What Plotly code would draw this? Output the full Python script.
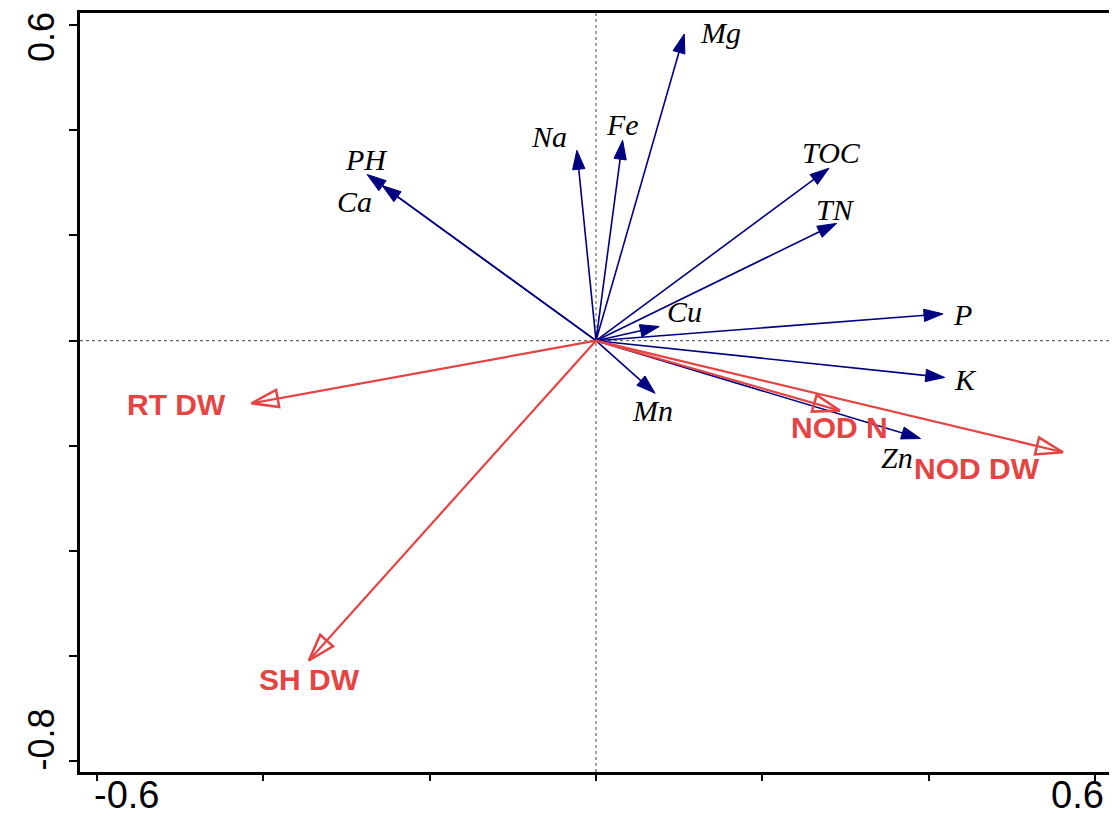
import plotly.graph_objects as go

# Environmental variable vectors (blue)
env_names = ["Mg", "Fe", "Na", "PH", "Ca", "TOC", "TN", "Cu", "P", "K", "Mn", "Zn"]
env_x = [0.106, 0.032, -0.023, -0.275, -0.257, 0.280, 0.289, 0.076, 0.417, 0.419, 0.071, 0.390]
env_y = [0.583, 0.381, 0.362, 0.316, 0.295, 0.328, 0.223, 0.027, 0.051, -0.070, -0.100, -0.186]

# Response variable vectors (red)
resp_names = ["RT DW", "SH DW", "NOD N", "NOD DW"]
resp_x = [-0.414, -0.345, 0.293, 0.561]
resp_y = [-0.119, -0.608, -0.133, -0.212]

# Axis ticks
tick_x = [-0.6, -0.4, -0.2, 0.0, 0.2, 0.4, 0.6]
tick_y = [-0.8, -0.6, -0.4, -0.2, 0.0, 0.2, 0.4, 0.6]

# label offsets in pixels (xshift, yshift) - styling only
env_off = {"Mg": (36, 2), "Fe": (0, 16), "Na": (-28, 14), "PH": (-1, 15), "Ca": (-28, -16),
           "TOC": (2, 16), "TN": (-1, 14), "Cu": (25, 15), "P": (19, -1), "K": (21, -2),
           "Mn": (-3, -17), "Zn": (-24, -19)}
resp_off = {"RT DW": (-75, -1), "SH DW": (1, -19), "NOD N": (0, -17), "NOD DW": (-86, -16)}

BLUE = "#000080"
RED = "#e64343"

fig = go.Figure()

for n, x, y in zip(env_names, env_x, env_y):
    fig.add_trace(go.Scatter(
        x=[0, x], y=[0, y], mode="lines+markers",
        line=dict(color=BLUE, width=1.6),
        marker=dict(symbol=["circle", "arrow"], size=[0, 20], angleref="previous",
                    color=BLUE, opacity=1, line=dict(width=1, color=BLUE)),
        hoverinfo="skip", showlegend=False))

for n, x, y in zip(resp_names, resp_x, resp_y):
    fig.add_trace(go.Scatter(
        x=[0, x], y=[0, y], mode="lines+markers",
        line=dict(color=RED, width=2.2),
        marker=dict(symbol=["circle", "arrow-open"], size=[0, 28], angleref="previous",
                    color=RED, opacity=1, line=dict(width=2.5, color=RED)),
        hoverinfo="skip", showlegend=False))

annotations = []
for n, x, y in zip(env_names, env_x, env_y):
    dx, dy = env_off[n]
    annotations.append(dict(x=x, y=y, xref="x", yref="y", text=n, showarrow=False,
                            xshift=dx, yshift=dy,
                            font=dict(family="Liberation Serif", size=30, color="black", style="italic")))
for n, x, y in zip(resp_names, resp_x, resp_y):
    dx, dy = resp_off[n]
    annotations.append(dict(x=x, y=y, xref="x", yref="y", text=n, showarrow=False,
                            xshift=dx, yshift=dy,
                            font=dict(family="Liberation Sans", size=30, color=RED, weight="bold")))

# axis end labels
annotations.append(dict(x=tick_x[0], y=0, xref="x", yref="paper", text="-0.6", showarrow=False,
                        xanchor="center", yanchor="bottom", xshift=30, yshift=-46,
                        font=dict(family="Liberation Sans", size=38, color="black")))
annotations.append(dict(x=tick_x[-1], y=0, xref="x", yref="paper", text="0.6", showarrow=False,
                        xanchor="center", yanchor="bottom", xshift=-18, yshift=-46,
                        font=dict(family="Liberation Sans", size=38, color="black")))
annotations.append(dict(x=0, y=tick_y[-1], xref="paper", yref="y", text="0.6", showarrow=False,
                        xanchor="center", yanchor="middle",
                        textangle=-90, xshift=-39, yshift=-12,
                        font=dict(family="Liberation Sans", size=36, color="black")))
annotations.append(dict(x=0, y=tick_y[0], xref="paper", yref="y", text="-0.8", showarrow=False,
                        xanchor="center", yanchor="middle",
                        textangle=-90, xshift=-39, yshift=22,
                        font=dict(family="Liberation Sans", size=36, color="black")))

shapes = [
    dict(type="line", x0=0, x1=0, y0=0, y1=1, xref="x", yref="paper",
         line=dict(color="#444", width=1, dash="dot"), layer="below"),
    dict(type="line", x0=0, x1=1, y0=0, y1=0, xref="paper", yref="y",
         line=dict(color="#444", width=1, dash="dot"), layer="below"),
]

axis_common = dict(showgrid=False, zeroline=False, showline=True, linecolor="black",
                   linewidth=2.5, mirror=True, ticks="outside", tickwidth=1.5,
                   tickcolor="black", showticklabels=False)

# page body adds an 8px offset; margins compensate so the plot area sits at 80..1112 x 10..772
fig.update_layout(
    width=1117, height=819,
    margin=dict(l=72, r=13, t=2, b=55),
    paper_bgcolor="white", plot_bgcolor="white",
    xaxis=dict(range=[-0.62, 0.62], tickvals=tick_x, ticklen=6, **axis_common),
    yaxis=dict(range=[-0.82, 0.623], tickvals=tick_y, ticklen=8, **axis_common),
    annotations=annotations, shapes=shapes,
)

fig.write_html("out.html")
